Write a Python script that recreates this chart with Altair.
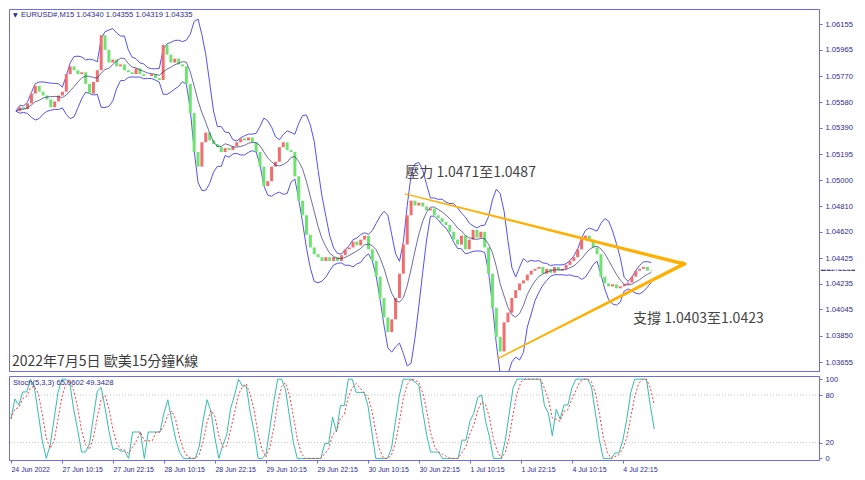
import json
import altair as alt
import pandas as pd

# ---------------- data ----------------
close = [
    1.05512, 1.05541, 1.05527, 1.05570, 1.05642, 1.05700, 1.05656, 1.05628, 1.05599, 1.05541,
    1.05584, 1.05628, 1.05656, 1.05786, 1.05844, 1.05815, 1.05786, 1.05800, 1.05714, 1.05642,
    1.05728, 1.05815, 1.06074, 1.05966, 1.05872, 1.05894, 1.05844, 1.05858, 1.05815, 1.05800,
    1.05786, 1.05829, 1.05786, 1.05772, 1.05772, 1.05786, 1.05757, 1.05743, 1.06002, 1.05930,
    1.05872, 1.05901, 1.05858, 1.05844, 1.05714, 1.05498, 1.05210, 1.05102, 1.05282, 1.05354,
    1.05296, 1.05268, 1.05246, 1.05210, 1.05239, 1.05224, 1.05253, 1.05282, 1.05311, 1.05296,
    1.05318, 1.05282, 1.05210, 1.05102, 1.04958, 1.04994, 1.05102, 1.05138, 1.05246, 1.05282,
    1.05224, 1.05210, 1.05030, 1.04850, 1.04742, 1.04598, 1.04504, 1.04454, 1.04432, 1.04404,
    1.04432, 1.04404, 1.04432, 1.04404, 1.04447, 1.04490, 1.04504, 1.04548, 1.04519, 1.04562,
    1.04591, 1.04490, 1.04404, 1.04288, 1.04130, 1.03986, 1.03878, 1.03972, 1.04130, 1.04310,
    1.04526, 1.04742, 1.04850, 1.04814, 1.04836, 1.04807, 1.04778, 1.04792, 1.04742, 1.04720,
    1.04692, 1.04670, 1.04620, 1.04562, 1.04526, 1.04591, 1.04490, 1.04562, 1.04634, 1.04576,
    1.04620, 1.04504, 1.04310, 1.04058, 1.03842, 1.03734, 1.03950, 1.04022, 1.04130, 1.04188,
    1.04238, 1.04260, 1.04303, 1.04332, 1.04346, 1.04360, 1.04310, 1.04346, 1.04317, 1.04360,
    1.04332, 1.04346, 1.04375, 1.04404, 1.04432, 1.04490, 1.04562, 1.04591, 1.04562, 1.04504,
    1.04454, 1.04288, 1.04238, 1.04216, 1.04231, 1.04202, 1.04216, 1.04231, 1.04245, 1.04288,
    1.04332, 1.04346, 1.04360, 1.04332, 1.04335,
]

tick_idx = [0, 13, 26, 39, 52, 65, 78, 91, 104, 117, 130, 143, 156]
tick_labels = ["24 Jun 2022", "27 Jun 10:15", "27 Jun 22:15", "28 Jun 10:15", "28 Jun 22:15",
               "29 Jun 10:15", "29 Jun 22:15", "30 Jun 10:15", "30 Jun 22:15", "1 Jul 10:15",
               "1 Jul 22:15", "4 Jul 10:15", "4 Jul 22:15"]
price_ticks = [1.06155, 1.05965, 1.05770, 1.05580, 1.05390, 1.05195, 1.05000, 1.04810,
               1.04620, 1.04425, 1.04235, 1.04045, 1.03850, 1.03655]
price_range = [1.03590, 1.06268]
bar_range = [-0.5, 206]
stoch_ticks = [0, 20, 80, 100]
stoch_levels = [20, 80]
stoch_range = [-2, 104]
header_ohlc = [1.04340, 1.04355, 1.04319, 1.04335]
stoch_last = [65.0602, 49.3428]
last_price = 1.04335

tri_line = ["upper", "upper", "lower", "lower"]
tri_k = [0, 1, 0, 1]
tri_i = [100.5, 172.5, 124.5, 172.5]
tri_p = [1.04900, 1.04382, 1.03684, 1.04382]

ann_i = [100.5, 159.3]
ann_p = [1.05052, 1.03972]
ann_t = ["壓力 1.0471至1.0487", "支撐 1.0403至1.0423"]
title_txt = "2022年7月5日 歐美15分鐘K線"

# ---------------- styling ----------------
W, H1, H2 = 810, 362, 84
FRAME = "#6b6bef"
NAVY = "#2b2b8f"
BAND = "#5252f5"
MID = "#2e2e80"
RED = "#f26d6d"
GREEN = "#6fe36f"
ORANGE = "#FFB000"
KCOL = "#33bdb0"
DCOL = "#ff3a3a"
FONT = "Liberation Sans"
CJK = "Noto Sans CJK TC"

df = pd.DataFrame({"i": list(range(len(close))), "close": close})
sort_i = [alt.SortField(field="i", order="ascending")]

xs = alt.Scale(domain=bar_range, nice=False, zero=False)
ys = alt.Scale(domain=price_range, nice=False, zero=False)
ss = alt.Scale(domain=stoch_range, nice=False, zero=False)

price_axis = alt.Axis(orient="right", values=price_ticks, format=".5f", title=None,
                      labelFontSize=7.6, tickSize=3, labelPadding=3)
stoch_axis = alt.Axis(orient="right", values=stoch_ticks, format="d", title=None,
                      labelFontSize=7.6, tickSize=3, labelPadding=3)
labels_expr = f"{json.dumps(tick_labels)}[indexof({json.dumps(tick_idx)}, datum.value)]"
time_axis = alt.Axis(orient="bottom", values=tick_idx, labelExpr=labels_expr, title=None,
                     labelAlign="left", labelFontSize=7, tickSize=3, labelPadding=2,
                     labelFlush=False, labelOverlap=False)


def PX(field="i"):
    return alt.X(f"{field}:Q", scale=xs, axis=None)


def PY(field):
    return alt.Y(f"{field}:Q", scale=ys, axis=price_axis)


base = (
    alt.Chart(df)
    .transform_window(window=[alt.WindowFieldDef(**{"op": "lag", "field": "close", "as": "prev"})],
                      sort=sort_i)
    .transform_calculate(open="isValid(datum.prev) ? datum.prev : datum.close")
    .transform_calculate(dir="datum.close >= datum.open ? 'up' : 'down'")
    .transform_window(ma="mean(close)", sd="stdevp(close)", frame=[-6, 0], sort=sort_i)
    .transform_calculate(ub="datum.ma + 2 * datum.sd", lb="datum.ma - 2 * datum.sd")
)

upper = base.mark_line(color=BAND, strokeWidth=1, clip=True).encode(x=PX(), y=PY("ub"))
lower = base.mark_line(color=BAND, strokeWidth=1, clip=True).encode(x=PX(), y=PY("lb"))
mid = base.mark_line(color=MID, strokeWidth=0.7, clip=True).encode(x=PX(), y=PY("ma"))
candles = base.mark_bar(size=3, clip=True).encode(
    x=PX(), y=PY("open"), y2="close",
    color=alt.Color("dir:N", scale=alt.Scale(domain=["up", "down"], range=[RED, GREEN]), legend=None),
)

tri = pd.DataFrame({"line": tri_line, "k": tri_k, "i": tri_i, "p": tri_p})
tri_lines = alt.Chart(tri).mark_trail(color=ORANGE, clip=True).encode(
    x=PX(), y=PY("p"), detail="line:N", order="k:Q",
    size=alt.Size("k:Q", scale=alt.Scale(domain=[0, 1], range=[1.4, 3.6]), legend=None),
)
tip = alt.Chart(tri).transform_filter("datum.k == 1 && datum.line == 'upper'").mark_point(
    shape="triangle-right", filled=True, size=45, color=ORANGE, opacity=1
).encode(x=PX(), y=PY("p"))

ann = pd.DataFrame({"i": ann_i, "p": ann_p, "t": ann_t})
ann_text = alt.Chart(ann).mark_text(align="left", baseline="middle", font=CJK, fontSize=14,
                                    color="#444444").encode(x=PX(), y=PY("p"), text="t:N")

title_layer = alt.Chart(pd.DataFrame({"t": [title_txt]})).mark_text(
    align="left", baseline="middle", font=CJK, fontSize=14, color="#3c3c3c"
).encode(x=alt.value(3), y=alt.value(H1 - 9), text="t:N")

header_str = "EURUSD#,M15  " + " ".join(f"{v:.5f}" for v in header_ohlc)
header = alt.Chart(pd.DataFrame({"t": [header_str]})).mark_text(
    align="left", baseline="middle", font=FONT, fontSize=7.6, color=NAVY
).encode(x=alt.value(12), y=alt.value(6), text="t:N")
header_arrow = alt.Chart(pd.DataFrame({"t": ["▼"]})).mark_text(
    align="left", baseline="middle", font="DejaVu Sans", fontSize=6, color=NAVY
).encode(x=alt.value(4), y=alt.value(6), text="t:N")

last_df = pd.DataFrame({"p": [last_price]})
last_box = alt.Chart(last_df).transform_calculate(
    p1="datum.p - 0.000042", p2="datum.p + 0.000042"
).mark_rect(color="#000080", clip=False).encode(
    x=alt.value(W + 2), x2=alt.value(W + 36), y=PY("p1"), y2="p2"
)
last_txt = alt.Chart(last_df).mark_text(
    align="left", baseline="middle", font=FONT, fontSize=7.6, color="white"
).encode(x=alt.value(W + 5), y=PY("p"), text=alt.Text("p:Q", format=".5f"))

price_panel = alt.layer(
    upper, lower, candles, mid, tri_lines, tip, ann_text, title_layer, header_arrow, header,
    last_box, last_txt
).properties(width=W, height=H1)

# ---------------- stochastic ----------------
st = (
    alt.Chart(df)
    .transform_window(hh="max(close)", ll="min(close)", frame=[-3, 0], sort=sort_i)
    .transform_calculate(raw="datum.hh > datum.ll ? 100 * (datum.close - datum.ll) / (datum.hh - datum.ll) : 50")
    .transform_window(k="mean(raw)", frame=[-2, 0], sort=sort_i)
    .transform_window(d="mean(k)", frame=[-2, 0], sort=sort_i)
)


def SX():
    return alt.X("i:Q", scale=xs, axis=time_axis)


def SY(field):
    return alt.Y(f"{field}:Q", scale=ss, axis=stoch_axis)


levels = alt.Chart(pd.DataFrame({"lv": stoch_levels})).mark_rule(
    color="#c4c4c4", strokeDash=[1, 2], strokeWidth=1
).encode(y=SY("lv"))
kline = st.mark_line(color=KCOL, strokeWidth=1, clip=True).encode(x=SX(), y=SY("k"))
dline = st.mark_line(color=DCOL, strokeWidth=1, strokeDash=[2, 2], clip=True).encode(x=SX(), y=SY("d"))
st_str = "Stoch(5,3,3) " + " ".join(f"{v:.4f}" for v in stoch_last)
st_header = alt.Chart(pd.DataFrame({"t": [st_str]})).mark_text(
    align="left", baseline="middle", font=FONT, fontSize=7.6, color=NAVY
).encode(x=alt.value(4), y=alt.value(7), text="t:N")

stoch_panel = alt.layer(levels, kline, dline, st_header).properties(width=W, height=H2)

chart = (
    alt.vconcat(price_panel, stoch_panel, spacing=2)
    .properties(padding=0, background="white")
    .configure_view(stroke=FRAME, strokeWidth=1)
    .configure_axis(domainColor=FRAME, tickColor=FRAME, labelColor=NAVY, labelFont=FONT,
                    grid=False)
)

chart.save("out.html", embed_options={"renderer": "svg", "actions": False})
